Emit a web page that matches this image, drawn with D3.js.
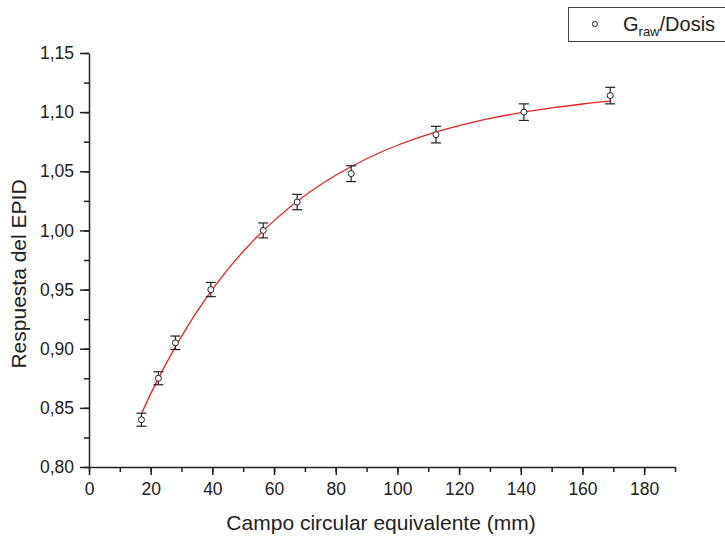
<!DOCTYPE html>
<html><head><meta charset="utf-8">
<script src="https://cdn.jsdelivr.net/npm/d3@7"></script>
<style>body{margin:0;background:#fff}svg{display:block}text{font-family:"Liberation Sans",Arial,sans-serif;fill:#222}</style>
</head><body>
<script>
const fieldSize = [17, 22.5, 28, 39.5, 56.5, 67.5, 85, 112.5, 141, 169];
const response = [0.840, 0.875, 0.905, 0.950, 1.000, 1.024, 1.048, 1.081, 1.100, 1.114];
const errors = [0.0055, 0.0055, 0.0057, 0.006, 0.0063, 0.0065, 0.0067, 0.007, 0.007, 0.007];
const fitX = [17, 20, 25, 30, 35, 40, 45, 50, 55, 60, 70, 80, 90, 100, 110, 120, 130, 140, 150, 160, 169];
const fitY = [0.845, 0.8618, 0.8874, 0.9105, 0.9313, 0.9501, 0.9670, 0.9822, 0.9959, 1.0083, 1.0295, 1.0466, 1.0606, 1.0720, 1.0812, 1.0886, 1.0947, 1.0996, 1.1036, 1.1069, 1.1093];
const xTicks = [0, 20, 40, 60, 80, 100, 120, 140, 160, 180];
const yTicks = [0.80, 0.85, 0.90, 0.95, 1.00, 1.05, 1.10, 1.15];

const W = 725, H = 536;
const svg = d3.select("body").append("svg").attr("width", W).attr("height", H);
const x = d3.scaleLinear().domain([0, 190]).range([89, 675]);
const y = d3.scaleLinear().domain([0.80, 1.15]).range([467, 53]);
const fmt = d => d3.format(".2f")(d).replace(".", ",");

const xMinor = d3.range(0, 191, 10);
const yMinor = d3.range(0, 15).map(i => 0.80 + i * 0.025);

const gx = svg.append("g").attr("transform", "translate(0,467)");
gx.call(d3.axisBottom(x).tickValues(xMinor).tickSize(5).tickFormat(""));
gx.call(g => g.select(".domain").remove());
const gx2 = svg.append("g").attr("transform", "translate(0,467)")
  .call(d3.axisBottom(x).tickValues(xTicks).tickSize(8).tickSizeOuter(0).tickPadding(8).tickFormat(d3.format("d")));
gx2.selectAll("text").style("font-size", "17.5px");

const gy = svg.append("g").attr("transform", "translate(89,0)");
gy.call(d3.axisLeft(y).tickValues(yMinor).tickSize(5).tickFormat(""));
gy.call(g => g.select(".domain").remove());
const gy2 = svg.append("g").attr("transform", "translate(89,0)")
  .call(d3.axisLeft(y).tickValues(yTicks).tickSize(9).tickSizeOuter(0).tickPadding(6).tickFormat(fmt));
gy2.selectAll("text").style("font-size", "17.5px");

svg.selectAll(".domain, .tick line").attr("stroke", "#222").attr("stroke-width", 1.5);

// fit curve
svg.append("path")
  .datum(fitX.map((v, i) => [v, fitY[i]]))
  .attr("fill", "none").attr("stroke", "#ee2222").attr("stroke-width", 1.3)
  .attr("d", d3.line().x(d => x(d[0])).y(d => y(d[1])).curve(d3.curveMonotoneX));

// error bars
const pts = fieldSize.map((v, i) => ({x: v, y: response[i], e: errors[i]}));
const eb = svg.append("g").attr("stroke", "#222").attr("stroke-width", 1.2);
pts.forEach(p => {
  const cx = x(p.x), y1 = y(p.y + p.e), y2 = y(p.y - p.e);
  eb.append("line").attr("x1", cx).attr("x2", cx).attr("y1", y1).attr("y2", y2);
  eb.append("line").attr("x1", cx - 5).attr("x2", cx + 5).attr("y1", y1).attr("y2", y1);
  eb.append("line").attr("x1", cx - 5).attr("x2", cx + 5).attr("y1", y2).attr("y2", y2);
});
svg.append("g").selectAll("circle").data(pts).join("circle")
  .attr("cx", d => x(d.x)).attr("cy", d => y(d.y)).attr("r", 3)
  .attr("fill", "#fff").attr("stroke", "#222").attr("stroke-width", 1);

// axis titles
svg.append("text").attr("x", 381).attr("y", 530).attr("text-anchor", "middle")
  .style("font-size", "21px").text("Campo circular equivalente (mm)");
svg.append("text").attr("transform", "translate(26,274) rotate(-90)").attr("text-anchor", "middle")
  .style("font-size", "21px").text("Respuesta del EPID");

// legend
svg.append("rect").attr("x", 568.5).attr("y", 7.5).attr("width", 160).attr("height", 34)
  .attr("fill", "#fff").attr("stroke", "#444").attr("stroke-width", 1);
svg.append("circle").attr("cx", 595).attr("cy", 24).attr("r", 2.5).attr("fill", "#fff").attr("stroke", "#222");
const lt = svg.append("text").attr("x", 623).attr("y", 31).style("font-size", "20px");
lt.append("tspan").text("G");
lt.append("tspan").attr("dy", 5).style("font-size", "13px").text("raw");
lt.append("tspan").attr("dy", -5).text("/Dosis");
</script>
</body></html>
